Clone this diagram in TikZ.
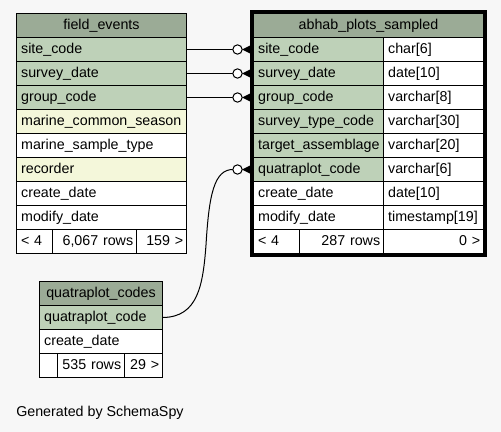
\documentclass[tikz,border=0pt]{standalone}
\usepackage{fontspec}
\setmainfont{Liberation Sans}
\usetikzlibrary{calc}

\definecolor{pagebg}{HTML}{F7F7F7}
\definecolor{headgreen}{HTML}{9BAB96}
\definecolor{keygreen}{HTML}{BED1B8}
\definecolor{idxyellow}{HTML}{F4F7DA}

\tikzset{
  cell/.style={draw=black, line width=0.75pt, anchor=north west, minimum height=18pt,
    inner xsep=3.5pt, inner ysep=0pt, text height=8pt, text depth=2.5pt, align=left,
    font=\fontsize{10.7}{12}\selectfont},
  w/.style={/utils/exec={\pgfmathsetlengthmacro\cellw{#1*0.75pt-7pt}}, text width=\cellw},
  fw/.style={inner xsep=2.5pt, /utils/exec={\pgfmathsetlengthmacro\cellw{#1*0.75pt-5pt}}, text width=\cellw},
  headcell/.style={cell, fill=headgreen, align=center},
  footcell/.style={cell, fill=white, align=right},
  link/.style={line width=0.75pt}
}

% circle and crow's foot in front of a column
\newcommand\crowfoot[1]{%
  \draw[link, fill=white] ($(#1.west)+(-15.5,0)$) circle[radius=3.5pt];
  \fill ($(#1.west)+(-11,0)$) -- ($(#1.west)+(-3,-4)$) -- ($(#1.west)+(-3,4)$) -- cycle;
}

\begin{document}
\begin{tikzpicture}[x=0.75pt, y=-0.75pt]
    \fill[pagebg] (0,0) rectangle (501,432);
    \useasboundingbox (0,0) rectangle (501,432);

    % field_events
    \node[headcell, w=170] (fehead) at (16,13) {field\_events};
    \foreach \txt/\col [count=\i] in {site\_code/keygreen, survey\_date/keygreen,
        group\_code/keygreen, marine\_common\_season/idxyellow,
        marine\_sample\_type/white, recorder/idxyellow, create\_date/white, modify\_date/white} {
        \node[cell, w=170, fill=\col] (fe\i) at (16, 13+24*\i) {\txt};
    }
    \node[cell, w=36, fill=white] (fefoot1) at (16,229) {< 4};
    \node[footcell, fw=84] (fefoot2) at (52,229) {6,067 rows};
    \node[footcell, fw=50] (fefoot3) at (136,229) {159 >};

    % abhab_plots_sampled
    \node[headcell, w=230] (aphead) at (253,13) {abhab\_plots\_sampled};
    \foreach \txt/\typ/\col [count=\i] in {site\_code/char[6]/keygreen,
        survey\_date/date[10]/keygreen, group\_code/varchar[8]/keygreen,
        survey\_type\_code/varchar[30]/keygreen, target\_assemblage/varchar[20]/keygreen,
        quatraplot\_code/varchar[6]/keygreen, create\_date/date[10]/white,
        modify\_date/timestamp[19]/white} {
        \node[cell, w=130, fill=\col] (ap\i) at (253, 13+24*\i) {\txt};
        \node[cell, w=100, fill=white] (aptype\i) at (383, 13+24*\i) {\typ};
    }
    \node[cell, w=46, fill=white] (apfoot1) at (253,229) {< 4};
    \node[footcell, fw=84] (apfoot2) at (299,229) {287 rows};
    \node[footcell, fw=100] (apfoot3) at (383,229) {0 >};
    \draw[line width=2.25pt] ($(aphead.north west)+(-1.5,-1.5)$) rectangle ($(apfoot3.south east)+(1.5,1.5)$);

    % quatraplot_codes
    \node[headcell, w=123] (qchead) at (39,281) {quatraplot\_codes};
    \node[cell, w=123, fill=keygreen] (qc1) at (39,305) {quatraplot\_code};
    \node[cell, w=123, fill=white] (qc2) at (39,329) {create\_date};
    \node[cell, w=18, fill=white] (qcfoot1) at (39,353) {};
    \node[footcell, fw=67] (qcfoot2) at (57,353) {535 rows};
    \node[footcell, fw=38] (qcfoot3) at (124,353) {29 >};

    % Links
    \foreach \i in {1,2,3} {
        \draw[link] (fe\i.east) -- ($(ap\i.west)+(-19.5,0)$);
        \crowfoot{ap\i}
    }
    \draw[link] (qc1.east) .. controls (198,317) and (203,285) .. (206,245)
        .. controls (209,195) and (214,169) .. ($(ap6.west)+(-19.5,0)$);
    \crowfoot{ap6}

    \node[anchor=base west, inner sep=0pt, font=\fontsize{10.7}{12}\selectfont] (credit) at (16,416.5) {Generated by SchemaSpy};
\end{tikzpicture}
\end{document}
